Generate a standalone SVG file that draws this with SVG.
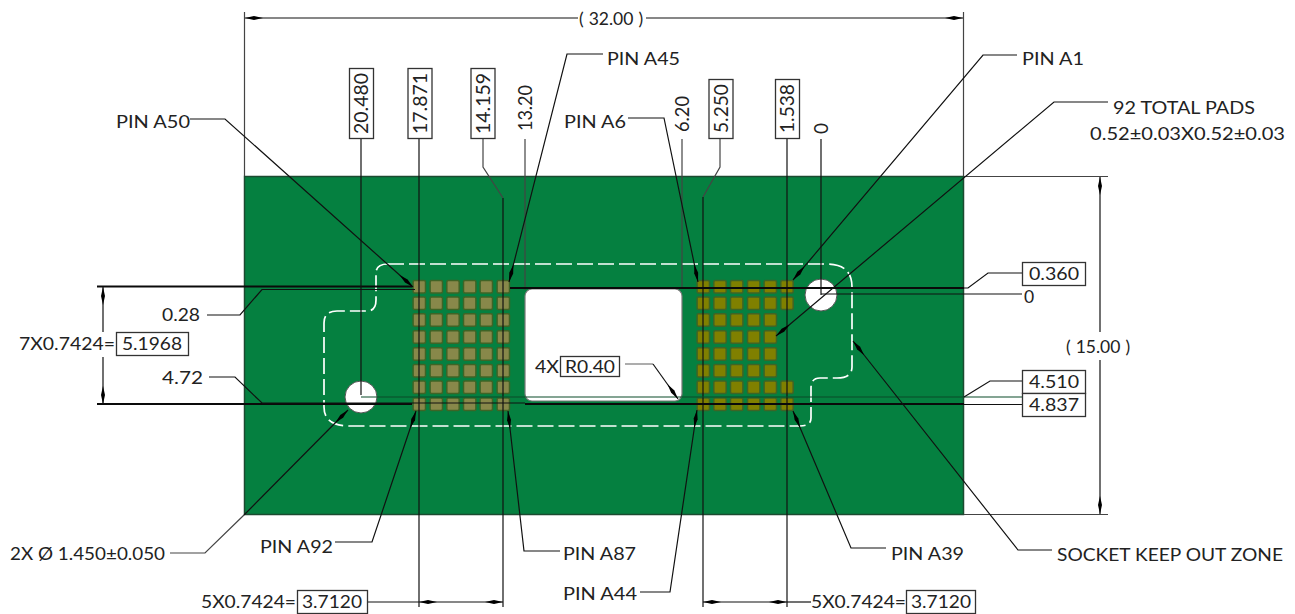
<svg xmlns="http://www.w3.org/2000/svg" width="1295" height="614" viewBox="0 0 1295 614">
<defs>
<marker id="a" markerUnits="userSpaceOnUse" markerWidth="18" markerHeight="6" refX="18" refY="3" orient="auto"><path d="M0 3L9 1L18 3L9 5Z" fill="#000"/></marker>
<marker id="b" markerUnits="userSpaceOnUse" markerWidth="18" markerHeight="6" refX="0" refY="3" orient="auto"><path d="M18 3L9 1L0 3L9 5Z" fill="#000"/></marker>
<rect id="p" x="-6.200" y="-6.200" width="12.400" height="12.400" rx="1.500" stroke="#3f6426" stroke-width="1.500"/>
</defs>
<style>
text{font-family:"Lato","Open Sans","Liberation Sans",sans-serif;font-size:17.500px;fill:#222}
.c{fill:none;stroke:#111;stroke-width:1.200}
.g{fill:none;stroke:#444;stroke-width:1.200}
.d{stroke:#0a0a0a;stroke-width:1.800;fill:none}
.l{fill:none;stroke:#111;stroke-width:1.200;marker-end:url(#a)}
.box{fill:#fff;stroke:#333;stroke-width:1.300}
.r{font-size:19px}
</style>
<rect width="1295" height="614" fill="#fff"/>
<g id="board">
<rect x="244.500" y="176.500" width="719" height="338" fill="#058040" stroke="#1c4a30" stroke-width="1.500"/>
<rect x="525" y="289" width="157" height="112" rx="7" fill="#fff" stroke="#777" stroke-width="1.200"/>
<circle cx="361" cy="397" r="16" fill="#fff" stroke="#555" stroke-width="1"/>
<circle cx="821" cy="295" r="16" fill="#fff" stroke="#555" stroke-width="1"/>
<path d="M388 264H827Q852 264 852 287V367Q852 378 837 378H820Q811 378 811 388V418Q811 426 800 426H350Q324 426 324 407V323Q324 311 337 311H367Q376 311 376 300V273Q376 264 388 264Z" fill="none" stroke="#fff" stroke-width="1.700" stroke-dasharray="16 5"/>
</g>
<g id="pads-left" fill="#88884a">
<use href="#p" x="419.300" y="286.700"/><use href="#p" x="436.300" y="286.700"/><use href="#p" x="453" y="286.700"/><use href="#p" x="469.700" y="286.700"/><use href="#p" x="486.300" y="286.700"/><use href="#p" x="503.300" y="286.700"/>
<use href="#p" x="419.300" y="303.300"/><use href="#p" x="436.300" y="303.300"/><use href="#p" x="453" y="303.300"/><use href="#p" x="469.700" y="303.300"/><use href="#p" x="486.300" y="303.300"/><use href="#p" x="503.300" y="303.300"/>
<use href="#p" x="419.300" y="320"/><use href="#p" x="436.300" y="320"/><use href="#p" x="453" y="320"/><use href="#p" x="469.700" y="320"/><use href="#p" x="486.300" y="320"/><use href="#p" x="503.300" y="320"/>
<use href="#p" x="419.300" y="337"/><use href="#p" x="436.300" y="337"/><use href="#p" x="453" y="337"/><use href="#p" x="469.700" y="337"/><use href="#p" x="486.300" y="337"/><use href="#p" x="503.300" y="337"/>
<use href="#p" x="419.300" y="354"/><use href="#p" x="436.300" y="354"/><use href="#p" x="453" y="354"/><use href="#p" x="469.700" y="354"/><use href="#p" x="486.300" y="354"/><use href="#p" x="503.300" y="354"/>
<use href="#p" x="419.300" y="370.700"/><use href="#p" x="436.300" y="370.700"/><use href="#p" x="453" y="370.700"/><use href="#p" x="469.700" y="370.700"/><use href="#p" x="486.300" y="370.700"/><use href="#p" x="503.300" y="370.700"/>
<use href="#p" x="419.300" y="387.300"/><use href="#p" x="436.300" y="387.300"/><use href="#p" x="453" y="387.300"/><use href="#p" x="469.700" y="387.300"/><use href="#p" x="486.300" y="387.300"/><use href="#p" x="503.300" y="387.300"/>
<use href="#p" x="419.300" y="404.300"/><use href="#p" x="436.300" y="404.300"/><use href="#p" x="453" y="404.300"/><use href="#p" x="469.700" y="404.300"/><use href="#p" x="486.300" y="404.300"/><use href="#p" x="503.300" y="404.300"/>
</g>
<g id="pads-right" fill="#808000">
<use href="#p" x="703.300" y="286.700"/><use href="#p" x="720" y="286.700"/><use href="#p" x="736.700" y="286.700"/><use href="#p" x="753.700" y="286.700"/><use href="#p" x="770.300" y="286.700"/><use href="#p" x="787" y="286.700"/>
<use href="#p" x="703.300" y="303.300"/><use href="#p" x="720" y="303.300"/><use href="#p" x="736.700" y="303.300"/><use href="#p" x="753.700" y="303.300"/><use href="#p" x="770.300" y="303.300"/><use href="#p" x="787" y="303.300"/>
<use href="#p" x="703.300" y="320"/><use href="#p" x="720" y="320"/><use href="#p" x="736.700" y="320"/><use href="#p" x="753.700" y="320"/><use href="#p" x="770.300" y="320"/>
<use href="#p" x="703.300" y="337"/><use href="#p" x="720" y="337"/><use href="#p" x="736.700" y="337"/><use href="#p" x="753.700" y="337"/><use href="#p" x="770.300" y="337"/>
<use href="#p" x="703.300" y="354"/><use href="#p" x="720" y="354"/><use href="#p" x="736.700" y="354"/><use href="#p" x="753.700" y="354"/><use href="#p" x="770.300" y="354"/>
<use href="#p" x="703.300" y="370.700"/><use href="#p" x="720" y="370.700"/><use href="#p" x="736.700" y="370.700"/><use href="#p" x="753.700" y="370.700"/><use href="#p" x="770.300" y="370.700"/>
<use href="#p" x="703.300" y="387.300"/><use href="#p" x="720" y="387.300"/><use href="#p" x="736.700" y="387.300"/><use href="#p" x="753.700" y="387.300"/><use href="#p" x="770.300" y="387.300"/><use href="#p" x="787" y="387.300"/>
<use href="#p" x="703.300" y="404.300"/><use href="#p" x="720" y="404.300"/><use href="#p" x="736.700" y="404.300"/><use href="#p" x="753.700" y="404.300"/><use href="#p" x="770.300" y="404.300"/><use href="#p" x="787" y="404.300"/>
</g>
<g id="connectors">
<path class="g" d="M244.500 12V176M963.500 12V176"/>
<path class="c" d="M245 18H578" style="marker-start:url(#b)"/>
<path class="c" d="M646 18H963" style="marker-end:url(#a)"/>
<path class="g" d="M964 176.500H1108M964 514.500H1108"/>
<path class="c" d="M1100 177V332" style="marker-start:url(#b)"/>
<path class="c" d="M1100 360V514" style="marker-end:url(#a)"/>
<path class="d" d="M97 286.500H412"/>
<path class="d" d="M97 404H412"/>
<path class="c" d="M103 332V287" style="marker-end:url(#a)"/>
<path class="c" d="M103 357V404" style="marker-end:url(#a)"/>
<path class="c" d="M361 138V395"/>
<path class="c" d="M419 138V607M503 198V607"/>
<path class="g" d="M483 138V167L503 198"/>
<path class="g" d="M525 139V290M682 139V289"/>
<path class="g" d="M720 138V167L703 197"/>
<path class="c" d="M703 197V607"/>
<path class="c" d="M787 138V607"/>
<path class="c" d="M821 139V295"/>
<path class="c" d="M367 602H419"/>
<path class="c" d="M419 602H503" style="marker-start:url(#b);marker-end:url(#a)"/>
<path class="c" d="M703 602H787" style="marker-start:url(#b);marker-end:url(#a)"/>
<path class="c" d="M787 602H811"/>
<path class="c" d="M207 315H240L262 289.500H415"/>
<path class="c" d="M209 377H235L262 403H525"/>
<path class="c" d="M361 397H1022" style="stroke:#0a4a28"/>
<path class="d" d="M510 288H964"/>
<path class="c" d="M821 294H1022"/>
<path class="c" d="M964 288H968L988 273H1022"/>
<path class="c" d="M964 397L990 381H1022"/>
<path class="d" d="M525 404H964"/>
<path class="c" d="M964 404.500H1022"/>
<path class="l" d="M190 119H225L413 287"/>
<path class="l" d="M603 54H567L509 282"/>
<path class="l" d="M628 118H664L698 282"/>
<path class="l" d="M1017 55H983L793 280"/>
<path class="l" d="M1108 102H1054L776 336"/>
<path class="l" d="M1052 550H1018L853 341"/>
<path class="l" d="M886 548H851L793 411"/>
<path class="l" d="M640 592H670L697 410"/>
<path class="l" d="M560 551H524L508 411"/>
<path class="l" d="M335 542H372L416 411"/>
<path class="g" d="M170 553H205L244 515"/>
<path class="l" d="M244 515L348 410"/>
<path class="g" d="M625 364H653" style="stroke:#777"/>
<path class="l" d="M653 364L678 399"/>
</g>
<g id="dim-32"><text x="579" y="25">(<tspan dx="5">32.00</tspan><tspan dx="5">)</tspan></text></g>
<g id="dim-15"><text x="1066" y="353">(<tspan dx="5">15.00</tspan><tspan dx="5">)</tspan></text></g>
<g id="dim-20480"><rect class="box" x="349.500" y="68.500" width="24" height="70"/><text class="r" transform="translate(368 134) rotate(-90)" textLength="61" lengthAdjust="spacingAndGlyphs">20.480</text></g>
<g id="dim-17871"><rect class="box" x="408" y="68.500" width="24" height="70"/><text class="r" transform="translate(426.500 134) rotate(-90)" textLength="61" lengthAdjust="spacingAndGlyphs">17.871</text></g>
<g id="dim-14159"><rect class="box" x="471" y="68.500" width="24" height="70"/><text class="r" transform="translate(489.500 134) rotate(-90)" textLength="61" lengthAdjust="spacingAndGlyphs">14.159</text></g>
<g id="dim-1320"><text class="r" transform="translate(531.500 131) rotate(-90)" textLength="46" lengthAdjust="spacingAndGlyphs">13.20</text></g>
<g id="dim-620"><text class="r" transform="translate(688.500 132) rotate(-90)" textLength="36" lengthAdjust="spacingAndGlyphs">6.20</text></g>
<g id="dim-5250"><rect class="box" x="709" y="79.500" width="24" height="59"/><text class="r" transform="translate(727.500 133) rotate(-90)" textLength="49" lengthAdjust="spacingAndGlyphs">5.250</text></g>
<g id="dim-1538"><rect class="box" x="775.500" y="79.500" width="24" height="59"/><text class="r" transform="translate(794 133) rotate(-90)" textLength="49" lengthAdjust="spacingAndGlyphs">1.538</text></g>
<g id="dim-0-top"><text class="r" transform="translate(827.500 134) rotate(-90)">0</text></g>
<g id="label-a50"><text x="116" y="128" textLength="74" lengthAdjust="spacingAndGlyphs">PIN A50</text></g>
<g id="label-a45"><text x="607" y="65" textLength="73" lengthAdjust="spacingAndGlyphs">PIN A45</text></g>
<g id="label-a6"><text x="564" y="128" textLength="62" lengthAdjust="spacingAndGlyphs">PIN A6</text></g>
<g id="label-a1"><text x="1022" y="65" textLength="62" lengthAdjust="spacingAndGlyphs">PIN A1</text></g>
<g id="label-pads"><text x="1113" y="114" textLength="142" lengthAdjust="spacingAndGlyphs">92 TOTAL PADS</text><text x="1090" y="140" textLength="195" lengthAdjust="spacingAndGlyphs">0.52±0.03X0.52±0.03</text></g>
<g id="dim-0360"><rect class="box" x="1022.500" y="262.500" width="63" height="23"/><text x="1054" y="280" text-anchor="middle" textLength="50" lengthAdjust="spacingAndGlyphs">0.360</text></g>
<g id="dim-0-right"><text x="1024" y="303">0</text></g>
<g id="dim-4510"><rect class="box" x="1022.500" y="370.500" width="63" height="23"/><text x="1054" y="388" text-anchor="middle" textLength="50" lengthAdjust="spacingAndGlyphs">4.510</text></g>
<g id="dim-4837"><rect class="box" x="1022.500" y="393.500" width="63" height="23"/><text x="1054" y="411" text-anchor="middle" textLength="50" lengthAdjust="spacingAndGlyphs">4.837</text></g>
<g id="dim-028"><text x="162" y="321" textLength="38" lengthAdjust="spacingAndGlyphs">0.28</text></g>
<g id="dim-472"><text x="162" y="384" textLength="41" lengthAdjust="spacingAndGlyphs">4.72</text></g>
<g id="dim-5968"><text x="19" y="350" textLength="96" lengthAdjust="spacingAndGlyphs">7X0.7424=</text><rect class="box" x="116.500" y="332.500" width="72" height="23"/><text x="152" y="350" text-anchor="middle" textLength="60" lengthAdjust="spacingAndGlyphs">5.1968</text></g>
<g id="dim-r040"><text x="535" y="373" textLength="24" lengthAdjust="spacingAndGlyphs">4X</text><rect class="box" x="560.500" y="356.500" width="59" height="20"/><text x="590" y="373" text-anchor="middle" textLength="50" lengthAdjust="spacingAndGlyphs">R0.40</text></g>
<g id="label-dia"><text x="10" y="560" textLength="155" lengthAdjust="spacingAndGlyphs">2X Ø 1.450±0.050</text></g>
<g id="label-a92"><text x="260" y="553" textLength="73" lengthAdjust="spacingAndGlyphs">PIN A92</text></g>
<g id="label-a87"><text x="563" y="560" textLength="73" lengthAdjust="spacingAndGlyphs">PIN A87</text></g>
<g id="label-a39"><text x="891" y="560" textLength="73" lengthAdjust="spacingAndGlyphs">PIN A39</text></g>
<g id="label-a44"><text x="563" y="600" textLength="74" lengthAdjust="spacingAndGlyphs">PIN A44</text></g>
<g id="label-socket"><text x="1057" y="561" textLength="226" lengthAdjust="spacingAndGlyphs">SOCKET KEEP OUT ZONE</text></g>
<g id="dim-3712a"><text x="201" y="608" textLength="95" lengthAdjust="spacingAndGlyphs">5X0.7424=</text><rect class="box" x="297.500" y="590.500" width="70" height="23"/><text x="332" y="608" text-anchor="middle" textLength="60" lengthAdjust="spacingAndGlyphs">3.7120</text></g>
<g id="dim-3712b"><text x="811" y="608" textLength="95" lengthAdjust="spacingAndGlyphs">5X0.7424=</text><rect class="box" x="906.500" y="590.500" width="69" height="23"/><text x="941" y="608" text-anchor="middle" textLength="60" lengthAdjust="spacingAndGlyphs">3.7120</text></g>
</svg>
